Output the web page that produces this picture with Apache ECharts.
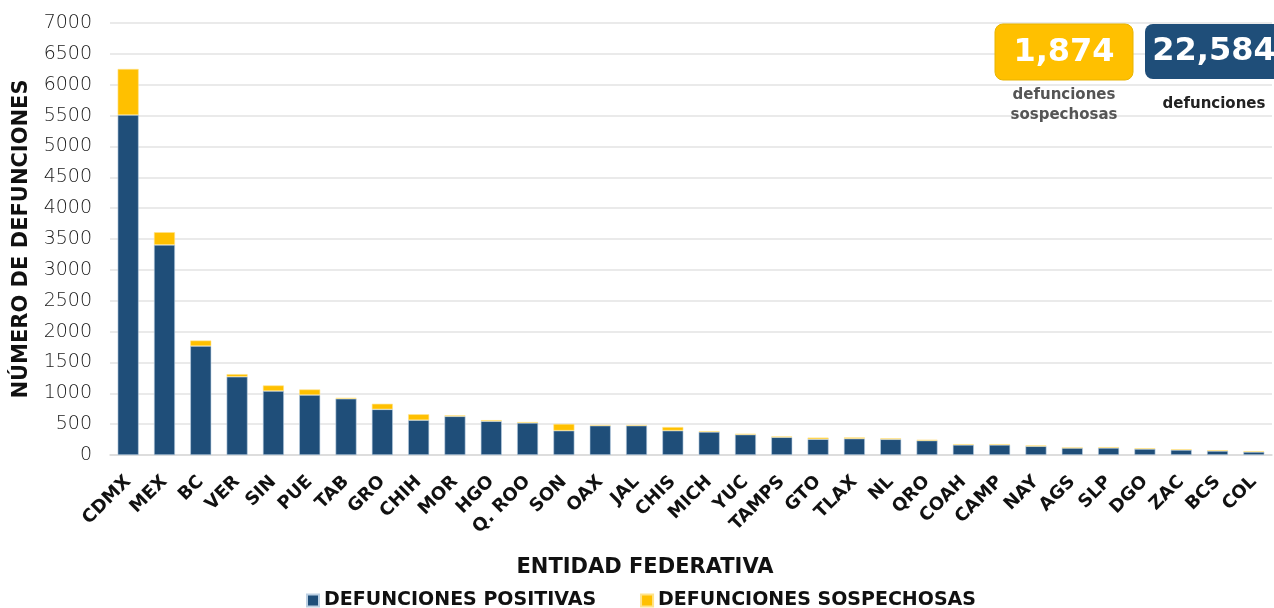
<!DOCTYPE html>
<html>
<head>
<meta charset="utf-8">
<script src="https://cdn.jsdelivr.net/npm/echarts@6/dist/echarts.min.js"></script>
<style>
  html, body { margin: 0; padding: 0; background: #fff; }
  #chart { width: 1274px; height: 608px; }
</style>
</head>
<body>
<div id="chart"></div>
<script>
  const estados = ['CDMX', 'MEX', 'BC', 'VER', 'SIN', 'PUE', 'TAB', 'GRO', 'CHIH', 'MOR', 'HGO', 'Q. ROO',
    'SON', 'OAX', 'JAL', 'CHIS', 'MICH', 'YUC', 'TAMPS', 'GTO', 'TLAX', 'NL', 'QRO', 'COAH', 'CAMP',
    'NAY', 'AGS', 'SLP', 'DGO', 'ZAC', 'BCS', 'COL'];
  const positivas = [5510, 3405, 1765, 1268, 1037, 972, 912, 740, 565, 627, 547, 520,
    395, 476, 476, 395, 374, 331, 288, 256, 266, 255, 234, 164, 164,
    142, 115, 115, 98, 82, 66, 50];
  const sospechosas = [745, 205, 90, 42, 90, 90, 14, 90, 95, 14, 18, 14,
    108, 8, 8, 58, 12, 12, 12, 26, 18, 14, 12, 12, 12,
    12, 3, 12, 12, 12, 12, 12];
  const totalSospechosas = '1,874';
  const totalDefunciones = '22,584';

  const azul = '#1F4E79';
  const amarillo = '#FFC000';
  const fuente = '"DejaVu Sans", sans-serif';

  const chart = echarts.init(document.getElementById('chart'));

  chart.setOption({
    animation: false,
    textStyle: { fontFamily: fuente },
    grid: {
      left: 110,
      right: 2,
      top: 23,
      bottom: 153,
      outerBoundsMode: 'none',
      containLabel: false
    },
    legend: {
      top: 586,
      left: 301,
      itemGap: 44,
      itemWidth: 12,
      itemHeight: 12,
      icon: 'rect',
      textStyle: { fontFamily: fuente, fontWeight: 'bold', fontSize: 19, color: '#111' },
      data: ['DEFUNCIONES POSITIVAS', 'DEFUNCIONES SOSPECHOSAS']
    },
    xAxis: {
      type: 'category',
      data: estados,
      name: 'ENTIDAD FEDERATIVA',
      nameLocation: 'middle',
      nameGap: 102,
      nameTextStyle: {
        fontFamily: fuente, fontWeight: 'bold', fontSize: 21, color: '#111',
        padding: [0, 92, 0, 0]
      },
      axisTick: { show: false },
      axisLine: { lineStyle: { color: '#d9d9d9', width: 1.5 } },
      axisLabel: {
        interval: 0,
        rotate: 45,
        margin: 24,
        fontFamily: fuente,
        fontWeight: 'bold',
        fontSize: 18,
        color: '#111'
      }
    },
    yAxis: {
      type: 'value',
      min: 0,
      max: 7000,
      interval: 500,
      name: 'NÚMERO DE DEFUNCIONES',
      nameLocation: 'middle',
      nameGap: 78,
      nameTextStyle: { fontFamily: fuente, fontWeight: 'bold', fontSize: 21, color: '#111' },
      axisLine: { show: false },
      axisTick: { show: false },
      axisLabel: {
        margin: 18, fontSize: 19, fontWeight: 300, color: '#1a1a1a', fontFamily: fuente,
        formatter: function (v) { return String(v); }
      },
      splitLine: { lineStyle: { color: '#e3e3e3', width: 1.5 } }
    },
    series: [
      {
        name: 'DEFUNCIONES POSITIVAS',
        type: 'bar',
        stack: 'total',
        barWidth: 21,
        itemStyle: { color: azul, borderColor: '#bcd0e3', borderWidth: 0.6 },
        data: positivas
      },
      {
        name: 'DEFUNCIONES SOSPECHOSAS',
        type: 'bar',
        stack: 'total',
        barWidth: 21,
        itemStyle: { color: amarillo, borderColor: '#ffe38a', borderWidth: 0.6 },
        data: sospechosas
      }
    ],
    graphic: [
      {
        type: 'rect',
        z: 100,
        shape: { x: 995, y: 24, width: 138, height: 56, r: 8 },
        style: { fill: amarillo, stroke: '#e8b400', lineWidth: 1 }
      },
      {
        type: 'text',
        z: 101,
        x: 1064, y: 53,
        style: {
          text: totalSospechosas, fill: '#fff', fontSize: 32, fontWeight: 'bold',
          fontFamily: fuente, align: 'center', verticalAlign: 'middle'
        }
      },
      {
        type: 'rect',
        z: 100,
        shape: { x: 1145, y: 24, width: 140, height: 55, r: 8 },
        style: { fill: azul }
      },
      {
        type: 'text',
        z: 101,
        x: 1214, y: 52,
        style: {
          text: totalDefunciones, fill: '#fff', fontSize: 32, fontWeight: 'bold',
          fontFamily: fuente, align: 'center', verticalAlign: 'middle'
        }
      },
      {
        type: 'text',
        z: 101,
        x: 1064, y: 105,
        style: {
          text: 'defunciones\nsospechosas', fill: '#555', fontSize: 15, fontWeight: 'bold',
          lineHeight: 20, fontFamily: fuente, align: 'center', verticalAlign: 'middle'
        }
      },
      {
        type: 'text',
        z: 101,
        x: 1214, y: 104,
        style: {
          text: 'defunciones', fill: '#222', fontSize: 15, fontWeight: 'bold',
          fontFamily: fuente, align: 'center', verticalAlign: 'middle'
        }
      }
    ]
  });
</script>
</body>
</html>
